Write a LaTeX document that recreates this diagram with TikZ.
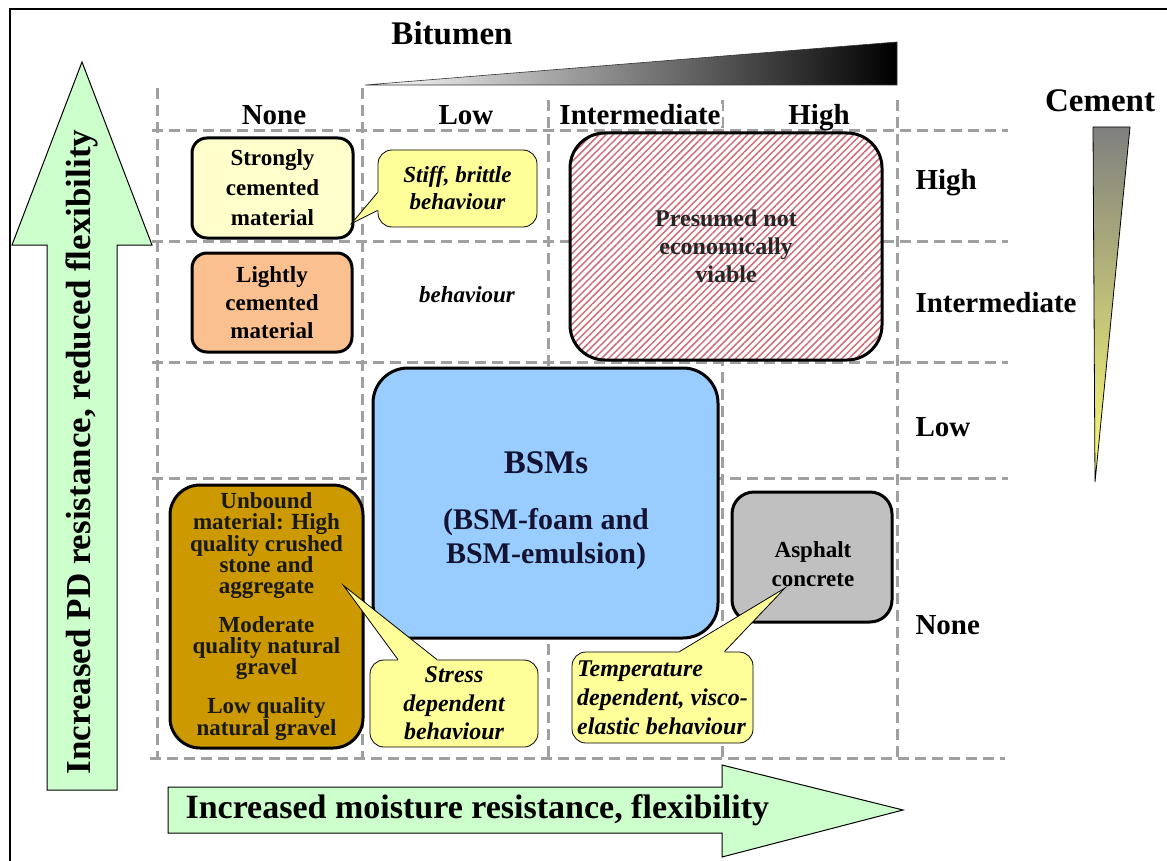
\documentclass[tikz,border=0pt]{standalone}
\usepackage{fontspec}
\setmainfont{Liberation Serif}
\usetikzlibrary{positioning,calc,patterns.meta}
\definecolor{pdgreen}{RGB}{204,255,204}
\definecolor{gridgray}{RGB}{160,160,160}
\definecolor{creamfill}{RGB}{255,255,204}
\definecolor{calloutfill}{RGB}{255,255,153}
\definecolor{peachfill}{RGB}{250,192,144}
\definecolor{brownfill}{RGB}{204,153,0}
\definecolor{bsmblue}{RGB}{153,204,255}
\definecolor{asphaltgray}{RGB}{192,192,192}
\definecolor{hatchred}{RGB}{205,110,120}
\definecolor{bsmtext}{RGB}{20,20,50}

\begin{document}
\begin{tikzpicture}[x=1pt, y=-1pt,
  grid/.style={gridgray, line width=3pt, dash pattern=on 11pt off 6pt},
  head/.style={font=\fontsize{29}{33}\selectfont\bfseries},
  title/.style={font=\fontsize{33}{37}\selectfont\bfseries},
  mat/.style={draw=black, line width=3pt, rounded corners=#1, align=center, inner sep=0pt, font=\fontsize{23}{29}\selectfont\bfseries},
  call/.style={draw=black, line width=0.8pt, fill=calloutfill, rounded corners=14pt, align=center, inner sep=0pt, font=\fontsize{23}{27}\selectfont\bfseries\itshape},
  tail/.style={fill=calloutfill},
  bigarrow/.style={draw=black, line width=1pt, fill=pdgreen}
]
\useasboundingbox (0,0) rectangle (1167,861);

% Dashed grid
\foreach \gx/\gy in {157/88, 362/88, 548/100, 722/100, 897/100}
  \draw[grid] (\gx,\gy) -- (\gx,758);
\foreach \gy in {131,241,362,478}
  \draw[grid] (152,\gy) -- (1008,\gy);
\draw[grid] (150,758) -- (1005,758);

% Bitumen and cement wedges
\shadedraw[left color=white, right color=black, draw=black!80, line width=0.6pt] (365,85) -- (897,42) -- (897,85) -- cycle;
\shadedraw[top color=black!50, bottom color=yellow!55, draw=black, line width=0.8pt] (1093,127) -- (1130,127) -- (1095,482) -- cycle;

\node[title] (bitumen) at (452,33) {Bitumen};
\node[title] (cement) at (1100,101) {Cement};

% Column and row headings
\node[head, anchor=base] (cnone) at (274,125) {None};
\node[head, anchor=base] (clow) at (466,125) {Low};
\node[head, anchor=base, fill=white, inner sep=1pt] (cmid) at (640,125) {Intermediate};
\node[head, anchor=base] (chigh) at (819,125) {High};
\node[head, anchor=west] (rhigh) at (912,183) {High};
\node[head, anchor=west] (rmid) at (912,303) {Intermediate};
\node[head, anchor=west] (rlow) at (912,427) {Low};
\node[head, anchor=west] (rnone) at (912,625) {None};

% Material boxes
\node[mat=15pt, fill=creamfill, minimum width=161pt, minimum height=100pt, font=\fontsize{23}{30}\selectfont\bfseries] (strong) at (272.5,188) {Strongly\\cemented\\material};
\node[mat=15pt, fill=peachfill, minimum width=160pt, minimum height=99pt, font=\fontsize{23}{28}\selectfont\bfseries] (light) at (272,302.5) {Lightly\\cemented\\material};
\node[mat=35pt, preaction={fill=white}, pattern={Lines[angle=45, distance=5pt, line width=1.5pt]}, pattern color=hatchred, minimum width=312pt, minimum height=227pt, text=black!85, font=\fontsize{24}{28}\selectfont\bfseries] (nogo) at (726,246.5) {Presumed not\\economically\\viable};
\node[mat=35pt, fill=bsmblue, minimum width=345pt, minimum height=270pt] (bsm) at (545.5,503) {};
\node[text=bsmtext, align=center, font=\fontsize{30}{34}\selectfont\bfseries] (bsmlabel) at (546,511) {{\fontsize{33}{37}\selectfont BSMs}\\[22pt](BSM-foam and\\BSM-emulsion)};
\node[mat=30pt, fill=brownfill, minimum width=193pt, minimum height=263pt, text=black!90, font=\fontsize{23}{21}\selectfont\bfseries] (unbound) at (266.5,616.5) {Unbound\\material: High\\quality crushed\\stone and\\aggregate\\[17pt]Moderate\\quality natural\\gravel\\[17pt]Low quality\\natural gravel};
\node[mat=22pt, fill=asphaltgray, minimum width=160pt, minimum height=130pt] (asphalt) at (812,557) {};
\node[align=center, font=\fontsize{23}{29}\selectfont\bfseries] (asphaltlabel) at (813,564) {Asphalt\\concrete};

\node[font=\fontsize{23}{27}\selectfont\bfseries\itshape] (lone) at (467,295) {behaviour};

% Callouts
\node[call, minimum width=159pt, minimum height=77pt] (stiff) at (457.5,188.5) {Stiff, brittle\\behaviour};
\fill[tail] ($(stiff.west)+(0,4)$) -- ($(strong.south east)+(-3,-16)$) -- ($(stiff.west)+(0,22)$) -- ($(stiff.west)+(3,22)$) -- ($(stiff.west)+(3,4)$) -- cycle;
\draw[line width=0.8pt] ($(stiff.west)+(0,4)$) -- ($(strong.south east)+(-3,-16)$) -- ($(stiff.west)+(0,22)$);

\node[call, minimum width=168pt, minimum height=87pt, font=\fontsize{24}{28.5}\selectfont\bfseries\itshape] (stress) at (454,703.5) {Stress\\dependent\\behaviour};
\fill[tail] ($(stress.north)+(-56,0)$) -- ($(unbound.east)+(-21,-31)$) -- ($(stress.north)+(-17,0)$) -- ($(stress.north)+(-17,3)$) -- ($(stress.north)+(-56,3)$) -- cycle;
\draw[line width=0.8pt] ($(stress.north)+(-56,0)$) -- ($(unbound.east)+(-21,-31)$) -- ($(stress.north)+(-17,0)$);

\node[call, minimum width=181pt, minimum height=91pt, align=left, font=\fontsize{24}{29}\selectfont\bfseries\itshape] (temp) at (662.5,697.5) {Temperature\\dependent, visco-\\elastic behaviour};
\fill[tail] ($(temp.north)+(17,0)$) -- ($(asphalt.center)+(-27,31)$) -- ($(temp.north)+(62,0)$) -- ($(temp.north)+(62,3)$) -- ($(temp.north)+(17,3)$) -- cycle;
\draw[line width=0.8pt] ($(temp.north)+(17,0)$) -- ($(asphalt.center)+(-27,31)$) -- ($(temp.north)+(62,0)$);

% Trend arrows
\draw[bigarrow] (47,790) -- (47,245) -- (12,245) -- (82,62) -- (152,245) -- (117,245) -- (117,790) -- cycle;
\node[rotate=90, font=\fontsize{35}{40}\selectfont\bfseries] (pdtext) at (82,452) {Increased PD resistance, reduced flexibility};
\draw[bigarrow] (168,787) -- (722,787) -- (722,765) -- (903,810) -- (722,857) -- (722,833) -- (168,833) -- cycle;
\node[anchor=west, font=\fontsize{34}{38}\selectfont\bfseries] (mtext) at (182,810) {Increased moisture resistance, flexibility};

% Frame
\draw[line width=1.5pt] (1167,9) -- (10,9) -- (10,861);
\end{tikzpicture}
\end{document}
